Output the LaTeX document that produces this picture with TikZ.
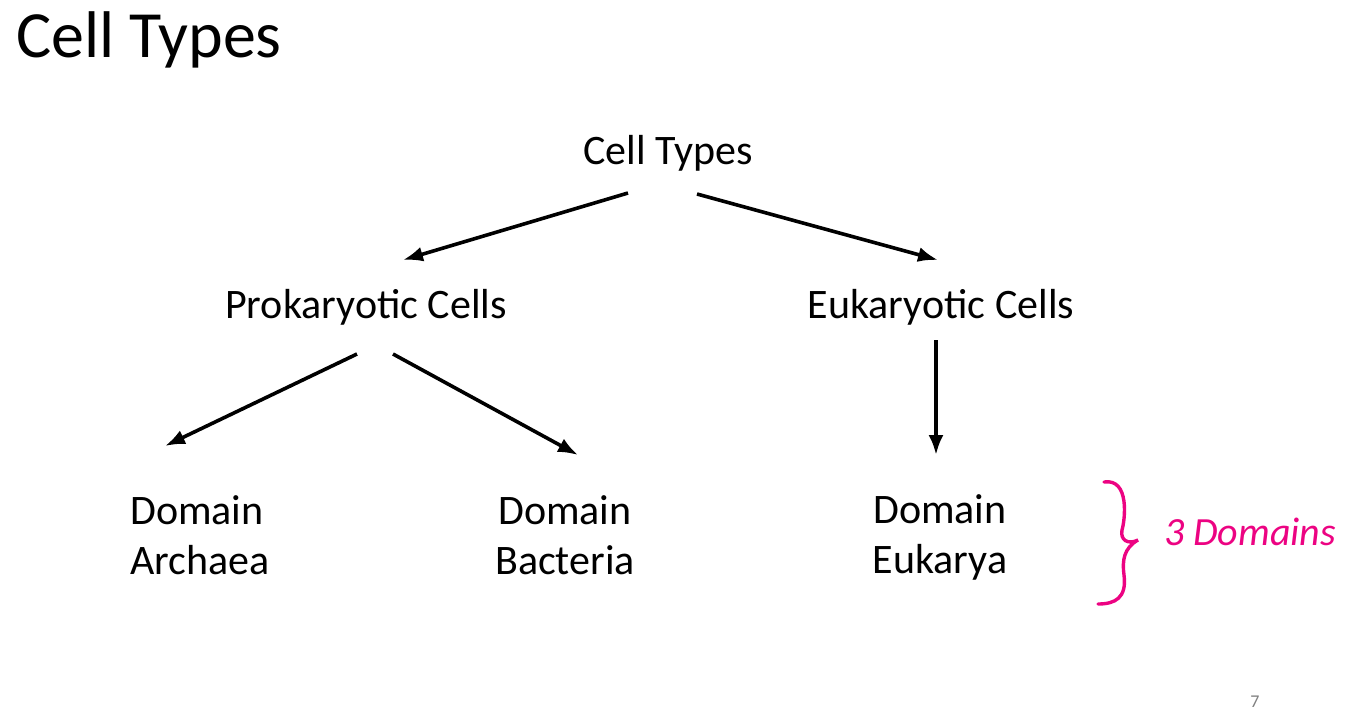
\documentclass[tikz,border=0pt]{standalone}
\usepackage{fontspec}
\setmainfont{Carlito}
\usetikzlibrary{arrows.meta}
\begin{document}
\begin{tikzpicture}[x=1pt,y=-1pt,
  lbl/.style={font=\fontsize{42}{50}\selectfont, align=center, inner sep=0},
  arr/.style={-{Latex[length=20pt,width=15pt]}, line width=3.6pt},
  pinkc/.style={draw=magenta!90!red, line width=3.4pt}]
\useasboundingbox (0,0) rectangle (1352,724);
\node[anchor=west, inner sep=0, font=\fontsize{66}{78}\selectfont] (title) at (16,40) {Cell Types};
\node[lbl] (ct) at (668,153) {Cell Types};
\node[lbl] (pro) at (366,307) {Prokaryotic Cells};
\node[lbl] (euk) at (941,307) {Eukaryotic Cells};
\node[lbl, align=left] (arc) at (200,535) {Domain\\Archaea};
\node[lbl] (bac) at (565,535) {Domain\\Bacteria};
\node[lbl] (eua) at (940,537) {Domain\\Eukarya};
\coordinate (a1s) at (628,193); \coordinate (a1e) at (403,260);
\coordinate (a2s) at (697,194); \coordinate (a2e) at (938,260);
\coordinate (a3s) at (357,354); \coordinate (a3e) at (165,446);
\coordinate (a4s) at (393,354); \coordinate (a4e) at (578,455);
\coordinate (a5s) at (936,340); \coordinate (a5e) at (936,455);
\draw[arr] (a1s) -- (a1e);
\draw[arr] (a2s) -- (a2e);
\draw[arr] (a3s) -- (a3e);
\draw[arr] (a4s) -- (a4e);
\draw[arr] (a5s) -- (a5e);
\draw[pinkc, line cap=round] (1104,482) .. controls (1130,478) and (1125,520) .. (1122,530)
  .. controls (1120,540) and (1128,545) .. (1138,540)
  .. controls (1124,548) and (1122,560) .. (1124,575)
  .. controls (1127,598) and (1115,604) .. (1098,604);
\node[inner sep=0, text=magenta!90!red, font=\fontsize{40}{50}\selectfont\itshape] (hw) at (1250,532) {3 Domains};
\node[inner sep=0, text=gray, font=\fontsize{18}{20}\selectfont] (pg) at (1255,702) {7};
\end{tikzpicture}
\end{document}
